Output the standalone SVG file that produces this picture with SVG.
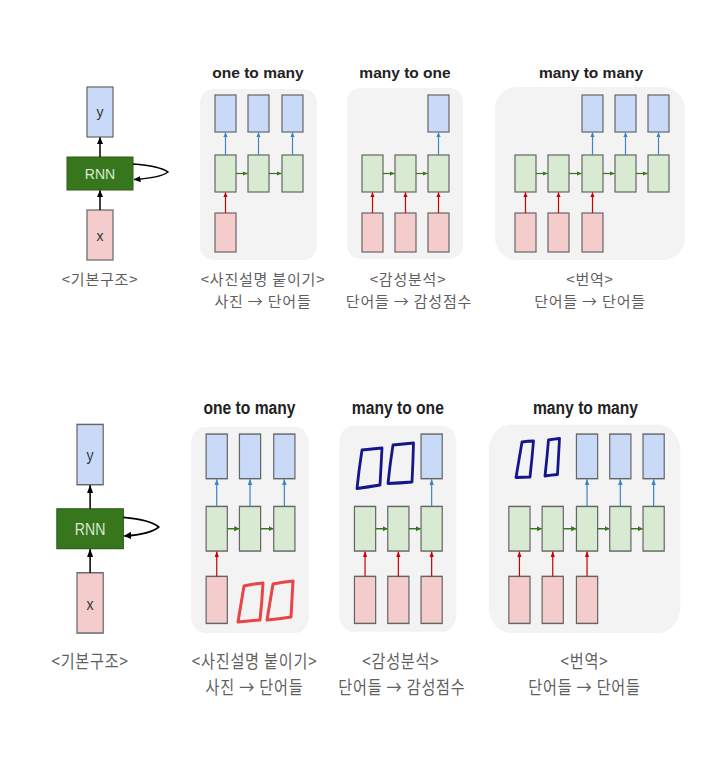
<svg xmlns="http://www.w3.org/2000/svg" width="724" height="757" viewBox="0 0 724 757">
<defs>
<style>
.bl{fill:#c9daf8;stroke:#666;stroke-width:1.2}
.gr{fill:#d9ead3;stroke:#666;stroke-width:1.2}
.rd{fill:#f4cccc;stroke:#666;stroke-width:1.2}
.rnn{fill:#38761d;stroke:#2d5e17;stroke-width:1}
.panel{fill:#f3f3f3}
.title{font-family:"Liberation Sans",Arial,sans-serif;font-weight:bold;font-size:15.5px;fill:#222;text-anchor:middle}
.cap{font-family:"Noto Sans CJK KR","Noto Sans",sans-serif;font-size:15px;letter-spacing:0.8px;fill:#5f5f5f;text-anchor:middle}
.in{font-family:"Liberation Sans",Arial,sans-serif;font-size:14px;fill:#333;text-anchor:middle}
.rt{font-family:"Liberation Sans",Arial,sans-serif;font-size:14px;fill:#d9ead3;text-anchor:middle}
.ak{stroke:#000;stroke-width:1.5;fill:none}
.ab{stroke:#3d85c6;stroke-width:1.2}
.ar{stroke:#cc0000;stroke-width:1.2}
.ag{stroke:#38761d;stroke-width:1.2}
.hr{fill:none;stroke:#e84545;stroke-width:3;stroke-linejoin:round;stroke-linecap:round}
.hb{fill:none;stroke:#14168c;stroke-width:2.8;stroke-linejoin:round;stroke-linecap:round}
</style>
<marker id="mk" viewBox="0 0 8 8" refX="7.5" refY="4" markerWidth="7" markerHeight="7" markerUnits="userSpaceOnUse" orient="auto"><path d="M0,0.5 L8,4 L0,7.5z" fill="#000"/></marker>
<marker id="mb" viewBox="0 0 8 8" refX="7.5" refY="4" markerWidth="5" markerHeight="5" markerUnits="userSpaceOnUse" orient="auto"><path d="M0,0.5 L8,4 L0,7.5z" fill="#3d85c6"/></marker>
<marker id="mr" viewBox="0 0 8 8" refX="7.5" refY="4" markerWidth="5" markerHeight="5" markerUnits="userSpaceOnUse" orient="auto"><path d="M0,0.5 L8,4 L0,7.5z" fill="#cc0000"/></marker>
<marker id="mg" viewBox="0 0 8 8" refX="7.5" refY="4" markerWidth="5" markerHeight="5" markerUnits="userSpaceOnUse" orient="auto"><path d="M0,0.5 L8,4 L0,7.5z" fill="#38761d"/></marker>
</defs>
<rect width="724" height="757" fill="#fff"/>

<!-- TOP -->
<g id="top">
<g id="t-panels">
<rect id="t-otm-panel" class="panel" x="200" y="89" width="117" height="171" rx="14"/>
<rect id="t-mto-panel" class="panel" x="347" y="88" width="116" height="171" rx="14"/>
<rect id="t-mtm-panel" class="panel" x="495" y="87" width="190" height="173" rx="22"/>
</g>
<g id="t-titles">
<text class="title" x="258" y="78">one to many</text>
<text class="title" x="405" y="78">many to one</text>
<text class="title" x="591" y="78">many to many</text>
</g>
<g id="t-basic-y"><rect class="bl" x="87" y="87" width="26" height="50"/><text class="in" x="100" y="117">y</text></g>
<g id="t-basic-rnn"><rect class="rnn" x="67" y="157" width="66" height="33"/><text class="rt" x="100" y="178.5">RNN</text></g>
<g id="t-basic-x"><rect class="rd" x="87" y="210" width="26" height="50"/><text class="in" x="100" y="240.5">x</text></g>

<g id="t-otm-y1"><rect class="bl" x="215" y="95" width="21" height="37"/></g>
<g id="t-otm-y2"><rect class="bl" x="248" y="95" width="21" height="37"/></g>
<g id="t-otm-y3"><rect class="bl" x="282" y="95" width="21" height="37"/></g>
<g id="t-otm-h1"><rect class="gr" x="215" y="155" width="21" height="37"/></g>
<g id="t-otm-h2"><rect class="gr" x="248" y="155" width="21" height="37"/></g>
<g id="t-otm-h3"><rect class="gr" x="282" y="155" width="21" height="37"/></g>
<g id="t-otm-x1"><rect class="rd" x="215" y="213" width="21" height="39"/></g>

<g id="t-mto-y3"><rect class="bl" x="428" y="95" width="21" height="37"/></g>
<g id="t-mto-h1"><rect class="gr" x="362" y="155" width="21" height="37"/></g>
<g id="t-mto-h2"><rect class="gr" x="395" y="155" width="21" height="37"/></g>
<g id="t-mto-h3"><rect class="gr" x="428" y="155" width="21" height="37"/></g>
<g id="t-mto-x1"><rect class="rd" x="362" y="213" width="21" height="39"/></g>
<g id="t-mto-x2"><rect class="rd" x="395" y="213" width="21" height="39"/></g>
<g id="t-mto-x3"><rect class="rd" x="428" y="213" width="21" height="39"/></g>

<g id="t-mtm-y3"><rect class="bl" x="582" y="95" width="21" height="37"/></g>
<g id="t-mtm-y4"><rect class="bl" x="615" y="95" width="21" height="37"/></g>
<g id="t-mtm-y5"><rect class="bl" x="648" y="95" width="21" height="37"/></g>
<g id="t-mtm-h1"><rect class="gr" x="515" y="155" width="21" height="37"/></g>
<g id="t-mtm-h2"><rect class="gr" x="548" y="155" width="21" height="37"/></g>
<g id="t-mtm-h3"><rect class="gr" x="582" y="155" width="21" height="37"/></g>
<g id="t-mtm-h4"><rect class="gr" x="615" y="155" width="21" height="37"/></g>
<g id="t-mtm-h5"><rect class="gr" x="648" y="155" width="21" height="37"/></g>
<g id="t-mtm-x1"><rect class="rd" x="515" y="213" width="21" height="39"/></g>
<g id="t-mtm-x2"><rect class="rd" x="548" y="213" width="21" height="39"/></g>
<g id="t-mtm-x3"><rect class="rd" x="582" y="213" width="21" height="39"/></g>

<g id="t-connectors">
<line class="ak" x1="100" y1="210" x2="100" y2="190.5" marker-end="url(#mk)"/>
<line class="ak" x1="100" y1="157" x2="100" y2="137.5" marker-end="url(#mk)"/>
<path class="ak" d="M133,164 Q160,166 168,172 Q160,178 134,179.5" marker-end="url(#mk)"/>
<line class="ab" x1="225.5" y1="155" x2="225.5" y2="132.5" marker-end="url(#mb)"/>
<line class="ab" x1="258.5" y1="155" x2="258.5" y2="132.5" marker-end="url(#mb)"/>
<line class="ab" x1="292.5" y1="155" x2="292.5" y2="132.5" marker-end="url(#mb)"/>
<line class="ar" x1="225.5" y1="213" x2="225.5" y2="192.5" marker-end="url(#mr)"/>
<line class="ag" x1="236" y1="173.5" x2="247.5" y2="173.5" marker-end="url(#mg)"/>
<line class="ag" x1="269" y1="173.5" x2="281.5" y2="173.5" marker-end="url(#mg)"/>
<line class="ab" x1="438.5" y1="155" x2="438.5" y2="132.5" marker-end="url(#mb)"/>
<line class="ar" x1="372.5" y1="213" x2="372.5" y2="192.5" marker-end="url(#mr)"/>
<line class="ar" x1="405.5" y1="213" x2="405.5" y2="192.5" marker-end="url(#mr)"/>
<line class="ar" x1="438.5" y1="213" x2="438.5" y2="192.5" marker-end="url(#mr)"/>
<line class="ag" x1="383" y1="173.5" x2="394.5" y2="173.5" marker-end="url(#mg)"/>
<line class="ag" x1="416" y1="173.5" x2="427.5" y2="173.5" marker-end="url(#mg)"/>
<line class="ab" x1="592.5" y1="155" x2="592.5" y2="132.5" marker-end="url(#mb)"/>
<line class="ab" x1="625.5" y1="155" x2="625.5" y2="132.5" marker-end="url(#mb)"/>
<line class="ab" x1="658.5" y1="155" x2="658.5" y2="132.5" marker-end="url(#mb)"/>
<line class="ar" x1="525.5" y1="213" x2="525.5" y2="192.5" marker-end="url(#mr)"/>
<line class="ar" x1="558.5" y1="213" x2="558.5" y2="192.5" marker-end="url(#mr)"/>
<line class="ar" x1="592.5" y1="213" x2="592.5" y2="192.5" marker-end="url(#mr)"/>
<line class="ag" x1="536" y1="173.5" x2="547.5" y2="173.5" marker-end="url(#mg)"/>
<line class="ag" x1="569" y1="173.5" x2="581.5" y2="173.5" marker-end="url(#mg)"/>
<line class="ag" x1="603" y1="173.5" x2="614.5" y2="173.5" marker-end="url(#mg)"/>
<line class="ag" x1="636" y1="173.5" x2="647.5" y2="173.5" marker-end="url(#mg)"/>
</g>
<g id="t-captions">
<text class="cap" x="100" y="284.7">&lt;기본구조&gt;</text>
<text class="cap" x="263" y="284.7">&lt;사진설명 붙이기&gt;</text>
<text class="cap" x="263" y="306.6">사진 → 단어들</text>
<text class="cap" x="408" y="284.7">&lt;감성분석&gt;</text>
<text class="cap" x="409" y="306.6">단어들 → 감성점수</text>
<text class="cap" x="590" y="284.7">&lt;번역&gt;</text>
<text class="cap" x="590" y="306.6">단어들 → 단어들</text>
</g>
</g>

<!-- BOTTOM (stretched copy) -->
<g id="bottom" transform="matrix(1.009 0 0 1.206 -10.8 319.5)">
<g id="b-panels">
<rect id="b-otm-panel" class="panel" x="200" y="89" width="117" height="171" rx="14"/>
<rect id="b-mto-panel" class="panel" x="347" y="88" width="116" height="171" rx="14"/>
<rect id="b-mtm-panel" class="panel" x="495" y="87" width="190" height="173" rx="22"/>
</g>
<g id="b-titles">
<text class="title" x="258" y="78">one to many</text>
<text class="title" x="405" y="78">many to one</text>
<text class="title" x="591" y="78">many to many</text>
</g>
<g id="b-basic-y"><rect class="bl" x="87" y="87" width="26" height="50"/><text class="in" x="100" y="117">y</text></g>
<g id="b-basic-rnn"><rect class="rnn" x="67" y="157" width="66" height="33"/><text class="rt" x="100" y="178.5">RNN</text></g>
<g id="b-basic-x"><rect class="rd" x="87" y="210" width="26" height="50"/><text class="in" x="100" y="240.5">x</text></g>

<g id="b-otm-y1"><rect class="bl" x="215" y="95" width="21" height="37"/></g>
<g id="b-otm-y2"><rect class="bl" x="248" y="95" width="21" height="37"/></g>
<g id="b-otm-y3"><rect class="bl" x="282" y="95" width="21" height="37"/></g>
<g id="b-otm-h1"><rect class="gr" x="215" y="155" width="21" height="37"/></g>
<g id="b-otm-h2"><rect class="gr" x="248" y="155" width="21" height="37"/></g>
<g id="b-otm-h3"><rect class="gr" x="282" y="155" width="21" height="37"/></g>
<g id="b-otm-x1"><rect class="rd" x="215" y="213" width="21" height="39"/></g>

<g id="b-mto-y3"><rect class="bl" x="428" y="95" width="21" height="37"/></g>
<g id="b-mto-h1"><rect class="gr" x="362" y="155" width="21" height="37"/></g>
<g id="b-mto-h2"><rect class="gr" x="395" y="155" width="21" height="37"/></g>
<g id="b-mto-h3"><rect class="gr" x="428" y="155" width="21" height="37"/></g>
<g id="b-mto-x1"><rect class="rd" x="362" y="213" width="21" height="39"/></g>
<g id="b-mto-x2"><rect class="rd" x="395" y="213" width="21" height="39"/></g>
<g id="b-mto-x3"><rect class="rd" x="428" y="213" width="21" height="39"/></g>

<g id="b-mtm-y3"><rect class="bl" x="582" y="95" width="21" height="37"/></g>
<g id="b-mtm-y4"><rect class="bl" x="615" y="95" width="21" height="37"/></g>
<g id="b-mtm-y5"><rect class="bl" x="648" y="95" width="21" height="37"/></g>
<g id="b-mtm-h1"><rect class="gr" x="515" y="155" width="21" height="37"/></g>
<g id="b-mtm-h2"><rect class="gr" x="548" y="155" width="21" height="37"/></g>
<g id="b-mtm-h3"><rect class="gr" x="582" y="155" width="21" height="37"/></g>
<g id="b-mtm-h4"><rect class="gr" x="615" y="155" width="21" height="37"/></g>
<g id="b-mtm-h5"><rect class="gr" x="648" y="155" width="21" height="37"/></g>
<g id="b-mtm-x1"><rect class="rd" x="515" y="213" width="21" height="39"/></g>
<g id="b-mtm-x2"><rect class="rd" x="548" y="213" width="21" height="39"/></g>
<g id="b-mtm-x3"><rect class="rd" x="582" y="213" width="21" height="39"/></g>

<g id="b-connectors">
<line class="ak" x1="100" y1="210" x2="100" y2="190.5" marker-end="url(#mk)"/>
<line class="ak" x1="100" y1="157" x2="100" y2="137.5" marker-end="url(#mk)"/>
<path class="ak" d="M133,164 Q160,166 168,172 Q160,178 134,179.5" marker-end="url(#mk)"/>
<line class="ab" x1="225.5" y1="155" x2="225.5" y2="132.5" marker-end="url(#mb)"/>
<line class="ab" x1="258.5" y1="155" x2="258.5" y2="132.5" marker-end="url(#mb)"/>
<line class="ab" x1="292.5" y1="155" x2="292.5" y2="132.5" marker-end="url(#mb)"/>
<line class="ar" x1="225.5" y1="213" x2="225.5" y2="192.5" marker-end="url(#mr)"/>
<line class="ag" x1="236" y1="173.5" x2="247.5" y2="173.5" marker-end="url(#mg)"/>
<line class="ag" x1="269" y1="173.5" x2="281.5" y2="173.5" marker-end="url(#mg)"/>
<line class="ab" x1="438.5" y1="155" x2="438.5" y2="132.5" marker-end="url(#mb)"/>
<line class="ar" x1="372.5" y1="213" x2="372.5" y2="192.5" marker-end="url(#mr)"/>
<line class="ar" x1="405.5" y1="213" x2="405.5" y2="192.5" marker-end="url(#mr)"/>
<line class="ar" x1="438.5" y1="213" x2="438.5" y2="192.5" marker-end="url(#mr)"/>
<line class="ag" x1="383" y1="173.5" x2="394.5" y2="173.5" marker-end="url(#mg)"/>
<line class="ag" x1="416" y1="173.5" x2="427.5" y2="173.5" marker-end="url(#mg)"/>
<line class="ab" x1="592.5" y1="155" x2="592.5" y2="132.5" marker-end="url(#mb)"/>
<line class="ab" x1="625.5" y1="155" x2="625.5" y2="132.5" marker-end="url(#mb)"/>
<line class="ab" x1="658.5" y1="155" x2="658.5" y2="132.5" marker-end="url(#mb)"/>
<line class="ar" x1="525.5" y1="213" x2="525.5" y2="192.5" marker-end="url(#mr)"/>
<line class="ar" x1="558.5" y1="213" x2="558.5" y2="192.5" marker-end="url(#mr)"/>
<line class="ar" x1="592.5" y1="213" x2="592.5" y2="192.5" marker-end="url(#mr)"/>
<line class="ag" x1="536" y1="173.5" x2="547.5" y2="173.5" marker-end="url(#mg)"/>
<line class="ag" x1="569" y1="173.5" x2="581.5" y2="173.5" marker-end="url(#mg)"/>
<line class="ag" x1="603" y1="173.5" x2="614.5" y2="173.5" marker-end="url(#mg)"/>
<line class="ag" x1="636" y1="173.5" x2="647.5" y2="173.5" marker-end="url(#mg)"/>
</g>
<g id="b-captions">
<text class="cap" x="100" y="288.9">&lt;기본구조&gt;</text>
<text class="cap" x="263" y="288.9">&lt;사진설명 붙이기&gt;</text>
<text class="cap" x="263" y="310.8">사진 → 단어들</text>
<text class="cap" x="408" y="288.9">&lt;감성분석&gt;</text>
<text class="cap" x="409" y="310.8">단어들 → 감성점수</text>
<text class="cap" x="590" y="288.9">&lt;번역&gt;</text>
<text class="cap" x="590" y="310.8">단어들 → 단어들</text>
</g>
</g>

<!-- handwritten marks -->
<g id="handwriting">
<path class="hr" d="M244,586 Q253,584 263,583 Q262,602 260,620 Q249,621 238,622 Q241,604 244,586"/>
<path class="hr" d="M273,584 Q283,582 293,581 Q292,599 291,617 Q279,619 267,620 Q270,602 273,584"/>
<path class="hb" d="M362,450 Q372,449 382,448 Q381,467 380,485 Q368,487 357,488.5 Q359,469 362,450"/>
<path class="hb" d="M393,445 Q403,444 413.5,443 Q413,463 412,482 Q400,483 388,483.5 Q390,464 393,445"/>
<path class="hb" d="M522,442 Q528,441 533.5,441 Q532,459 530,477 Q523,477 516,477.5 Q519,460 522,442"/>
<path class="hb" d="M548.5,440 Q554,439 559.5,438.5 Q558.5,456 557.5,474.5 Q551,475 545,476 Q547,458 548.5,440"/>
</g>
</svg>
